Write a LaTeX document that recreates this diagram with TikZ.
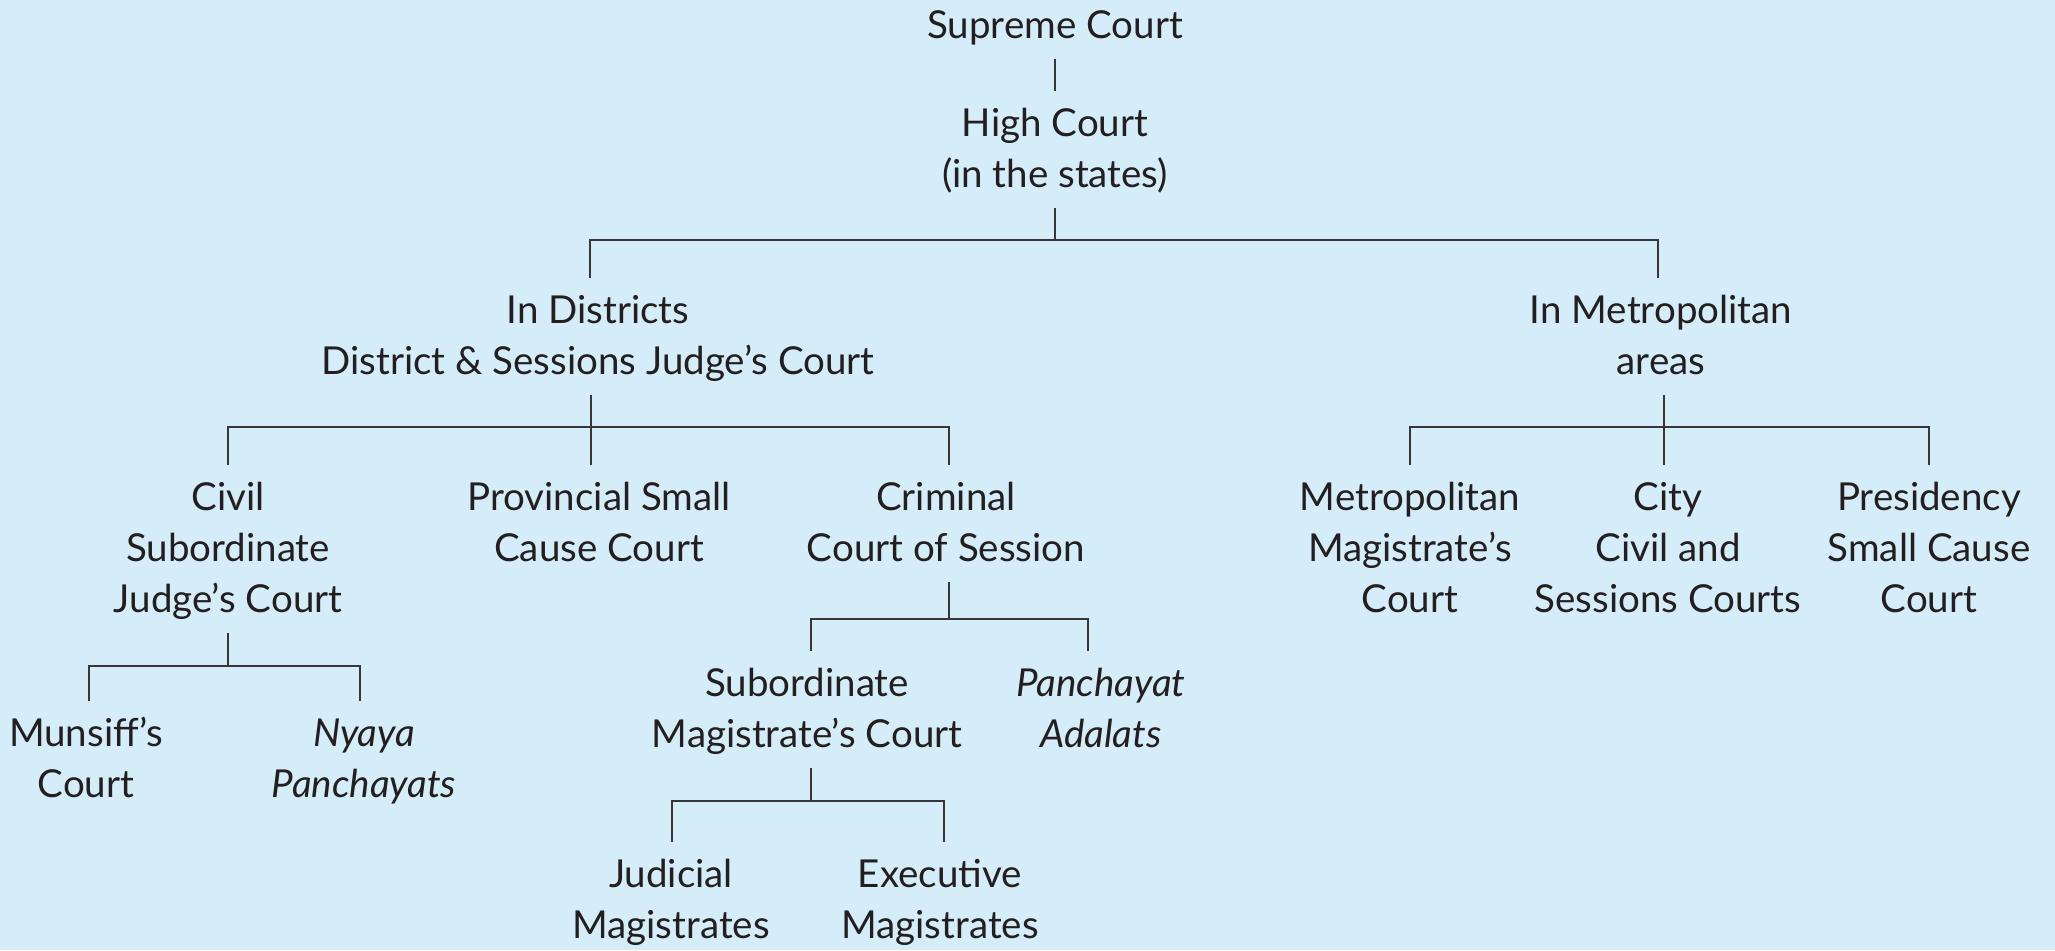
\documentclass[tikz,border=0pt]{standalone}
\usepackage{fontspec}
\setmainfont{Lato}
\definecolor{bgcol}{RGB}{213,236,249}
\definecolor{txtcol}{RGB}{35,31,32}
\definecolor{linecol}{RGB}{55,55,58}
\newcommand\tops{\rule{0pt}{45pt}}
\newcommand\botstrutx{\rule[-21pt]{0pt}{21pt}}
\tikzset{
  lbl/.style={align=center, inner xsep=0pt, inner ysep=0pt, outer sep=0pt, anchor=north,
    text=txtcol, font=\fontsize{38.5}{51}\selectfont,
    execute at end node=\botstrutx},
  ital/.style={font=\fontsize{38.5}{51}\selectfont\itshape},
  conn/.style={draw=linecol, line width=2.4pt}
}
\begin{document}
\begin{tikzpicture}[x=1pt,y=-1pt]
\fill[bgcol] (0,0) rectangle (2055,950);
\useasboundingbox (0,0) rectangle (2055,950);
% nodes
\node[lbl] (sc) at (1055,-7) {\tops Supreme Court};
\node[lbl] (hc) at (1055,91) {\tops High Court\\(in the states)};
\node[lbl] (dist) at (598,278) {\tops In Districts\\District \& Sessions Judge’s Court};
\node[lbl] (metro) at (1661,278) {\tops In Metropolitan\\areas};
\node[lbl] (civil) at (228,465) {\tops Civil\\Subordinate\\Judge’s Court};
\node[lbl] (prov) at (599,465) {\tops Provincial Small\\Cause Court};
\node[lbl] (crim) at (946,465) {\tops Criminal\\Court of Session};
\node[lbl] (mmag) at (1410,465) {\tops Metropolitan\\Magistrate’s\\Court};
\node[lbl] (city) at (1668,465) {\tops City\\Civil and\\Sessions Courts};
\node[lbl] (pres) at (1929,465) {\tops Presidency\\Small Cause\\Court};
\node[lbl] (muns) at (86,701) {\tops Munsiff’s\\Court};
\node[lbl,ital] (nyaya) at (364,701) {\tops Nyaya\\Panchayats};
\node[lbl] (submag) at (807,651) {\tops Subordinate\\Magistrate’s Court};
\node[lbl,ital] (padal) at (1101,651) {\tops Panchayat\\Adalats};
\node[lbl] (jud) at (671,842) {\tops Judicial\\Magistrates};
\node[lbl] (exe) at (940,842) {\tops Executive\\Magistrates};
% junctions
\coordinate (b1) at (1055,240);
\coordinate (b2) at (591,427);
\coordinate (b3) at (1664,427);
\coordinate (b4) at (228,666);
\coordinate (b5) at (949,619);
\coordinate (b6) at (811,801);
% connectors
\draw[conn] (sc.south) -- (hc.north);
\draw[conn] (hc.south) -- (b1);
\draw[conn] ([xshift=-8pt]dist.north) |- (b1) -| ([xshift=-3pt]metro.north);
\draw[conn] ([xshift=-7pt]dist.south) -- ([xshift=-8pt]prov.north);
\draw[conn] (civil.north) |- (b2) -| ([xshift=3pt]crim.north);
\draw[conn] ([xshift=3pt]metro.south) -- ([xshift=-4pt]city.north);
\draw[conn] (mmag.north) |- (b3) -| (pres.north);
\draw[conn] (civil.south) -- (b4);
\draw[conn] ([xshift=3pt]muns.north) |- (b4) -| ([xshift=-4pt]nyaya.north);
\draw[conn] ([xshift=3pt]crim.south) -- (b5);
\draw[conn] ([xshift=4pt]submag.north) |- (b5) -| ([xshift=-13pt]padal.north);
\draw[conn] ([xshift=4pt]submag.south) -- (b6);
\draw[conn] ([xshift=1pt]jud.north) |- (b6) -| ([xshift=4pt]exe.north);
\end{tikzpicture}
\end{document}
